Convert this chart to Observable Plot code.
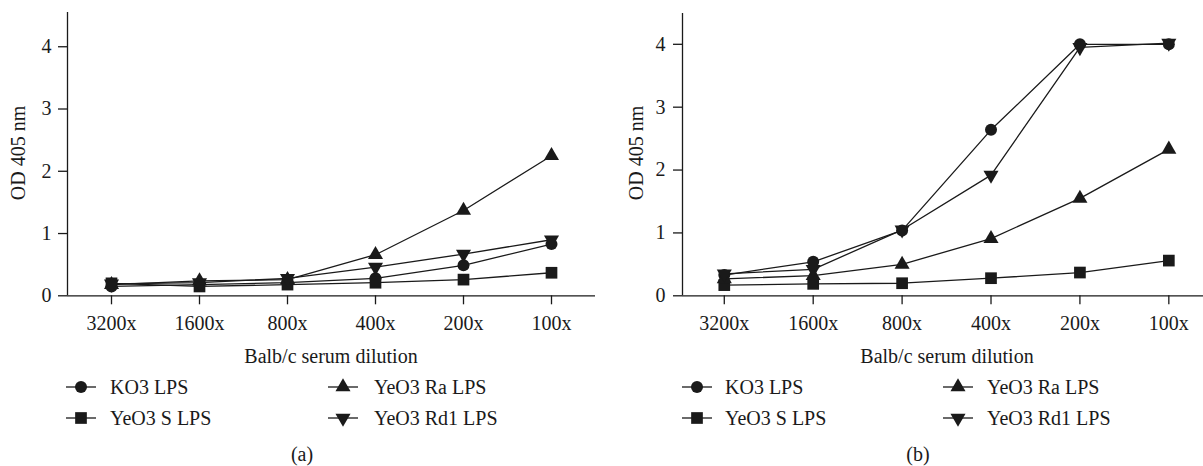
<!DOCTYPE html>
<html><head><meta charset="utf-8">
<script src="https://cdn.jsdelivr.net/npm/d3@7"></script>
<script src="https://cdn.jsdelivr.net/npm/@observablehq/plot@0.6"></script>
<style>
body{margin:0;background:#fff;}
#root{position:relative;width:1203px;height:466px;overflow:hidden;font-family:"Liberation Serif","Times New Roman",serif;}
.panel{position:absolute;top:0;}
#overlay{position:absolute;left:0;top:0;}
</style></head><body><div id="root"></div>
<script>
// ---- data ----
const dilutions = ["3200x","1600x","800x","400x","200x","100x"];
const seriesNames = ["KO3 LPS","YeO3 S LPS","YeO3 Ra LPS","YeO3 Rd1 LPS"];
// panel (a)
const aKO3  = [0.15, 0.18, 0.21, 0.28, 0.49, 0.83];
const aS    = [0.20, 0.15, 0.18, 0.21, 0.26, 0.37];
const aRa   = [0.18, 0.24, 0.26, 0.66, 1.37, 2.25];
const aRd1  = [0.19, 0.21, 0.28, 0.46, 0.67, 0.90];
// panel (b)
const bKO3  = [0.33, 0.54, 1.04, 2.64, 4.00, 4.00];
const bS    = [0.17, 0.19, 0.20, 0.28, 0.37, 0.56];
const bRa   = [0.27, 0.32, 0.50, 0.91, 1.55, 2.33];
const bRd1  = [0.35, 0.42, 1.05, 1.92, 3.95, 4.02];
const yTicks = [0, 1, 2, 3, 4];
const panelLabels = ["(a)", "(b)"];
const xTitle = "Balb/c serum dilution";
const yTitle = "OD 405 nm";

// ---- styling ----
const ink = "#1a1a1a";
const font = '"Liberation Serif","Times New Roman",serif';
const fs = 20;
const symbolSpec = {
  "KO3 LPS":      {symbol: "circle",   r: 6.0, rotate: 0},
  "YeO3 S LPS":   {symbol: "square",   r: 6.6, rotate: 0},
  "YeO3 Ra LPS":  {symbol: "triangle", r: 5.6, rotate: 0},
  "YeO3 Rd1 LPS": {symbol: "triangle", r: 5.6, rotate: 180}
};

function makePanel(values, cfg) {
  const data = [];
  seriesNames.forEach((s, si) => values[si].forEach((v, i) => data.push({s, i, v})));
  const marks = [
    Plot.line(data, {x: "i", y: "v", z: "s", stroke: ink, strokeWidth: 1.3}),
    ...seriesNames.map(s => Plot.dot(data.filter(d => d.s === s), {
      x: "i", y: "v", symbol: symbolSpec[s].symbol, r: symbolSpec[s].r,
      rotate: symbolSpec[s].rotate, fill: ink, stroke: "none"
    })),
    Plot.ruleY([0], {stroke: ink, strokeWidth: 1.3}),
    Plot.ruleX([cfg.xDomain[0]], {stroke: ink, strokeWidth: 1.3}),
    Plot.axisX(d3.range(dilutions.length), {tickSize: 9, tickPadding: 11, tickFormat: i => dilutions[i],
      label: null, fontSize: fs, fill: ink, stroke: ink, strokeWidth: 1.3}),
    Plot.axisY(yTicks, {tickSize: 9, tickPadding: cfg.yPad, tickFormat: d => String(d), label: null, fontSize: fs,
      fill: ink, stroke: ink, strokeWidth: 1.3})
  ];
  return Plot.plot({
    width: cfg.width, height: 370,
    marginLeft: cfg.ml, marginRight: cfg.mr, marginTop: cfg.mt, marginBottom: 74.7,
    x: {type: "linear", domain: cfg.xDomain},
    y: {domain: cfg.yDomain},
    style: {fontFamily: font, fontSize: fs + "px", color: ink, background: "white", overflow: "visible"},
    marks
  });
}

const root = document.getElementById("root");
const pa = makePanel([aKO3, aS, aRa, aRd1], {width: 600, ml: 67, mr: 5, mt: 12, xDomain: [-0.5, 5.5], yDomain: [0, 4.55], yPad: 7});
pa.classList.add("panel"); pa.style.left = "0px";
const pb = makePanel([bKO3, bS, bRa, bRd1], {width: 603, ml: 82, mr: 0, mt: 13, xDomain: [-0.47, 5.39], yDomain: [0, 4.49], yPad: 8});
pb.classList.add("panel"); pb.style.left = "600px";
root.appendChild(pa); root.appendChild(pb);

// ---- titles & legends (overlay) ----
const svg = d3.select(root).append("svg").attr("id", "overlay")
  .attr("width", 1203).attr("height", 466)
  .style("font-family", font).style("font-size", fs + "px").attr("fill", ink);

const panels = [
  {yTitleX: 25, xTitleX: 331, labelX: 302, leg: [[66, 110], [328, 374]]},
  {yTitleX: 642.7, xTitleX: 947, labelX: 918, leg: [[682, 725], [943, 987]]}
];
const legendOrder = [["KO3 LPS", 0, 0], ["YeO3 Ra LPS", 1, 0], ["YeO3 S LPS", 0, 1], ["YeO3 Rd1 LPS", 1, 1]];
const rowY = [387, 418];
const symMap = {circle: d3.symbolCircle, square: d3.symbolSquare, triangle: d3.symbolTriangle};

panels.forEach((p, pi) => {
  svg.append("text").attr("transform", `translate(${p.yTitleX},153) rotate(-90)`)
    .attr("text-anchor", "middle").text(yTitle);
  svg.append("text").attr("x", p.xTitleX).attr("y", 363).attr("text-anchor", "middle").text(xTitle);
  svg.append("text").attr("x", p.labelX).attr("y", 461).attr("text-anchor", "middle").text(panelLabels[pi]);
  legendOrder.forEach(([name, col, row]) => {
    const [lx, tx] = p.leg[col];
    const y = rowY[row];
    const spec = symbolSpec[name];
    svg.append("line").attr("x1", lx).attr("x2", lx + 30).attr("y1", y).attr("y2", y)
      .attr("stroke", ink).attr("stroke-width", 1.3);
    svg.append("path").attr("d", d3.symbol(symMap[spec.symbol], Math.PI * spec.r * spec.r)())
      .attr("transform", `translate(${lx + 15},${y}) rotate(${spec.rotate})`).attr("fill", ink);
    svg.append("text").attr("x", tx).attr("y", y + 6.5).text(name);
  });
});
</script></body></html>
